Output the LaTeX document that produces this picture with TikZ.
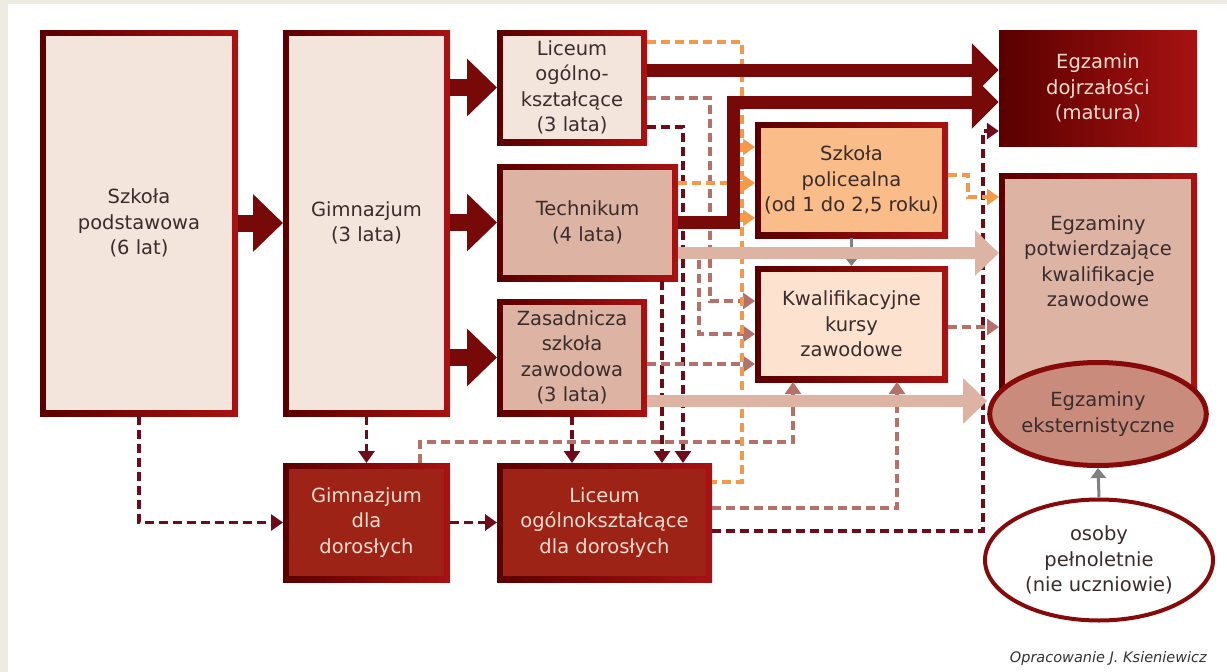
\documentclass[tikz,border=0pt]{standalone}
\usepackage{fontspec}
\setmainfont{DejaVu Sans}
\usetikzlibrary{arrows.meta,shapes.geometric}
\definecolor{bgbeige}{HTML}{EEEBE2}
\definecolor{bdA}{HTML}{5A0000}
\definecolor{bdB}{HTML}{A81212}
\definecolor{fillL}{HTML}{F3E5DC}
\definecolor{fillT}{HTML}{DDB3A3}
\definecolor{fillD}{HTML}{9C2316}
\definecolor{txtL}{HTML}{F7DDD0}
\definecolor{txtD}{HTML}{3A2C2C}
\definecolor{fillP}{HTML}{FABC88}
\definecolor{fillK}{HTML}{FCE2CF}
\definecolor{fillE}{HTML}{C98C7C}
\definecolor{darkdash}{HTML}{6E0B1B}
\definecolor{rosedash}{HTML}{B5706A}
\definecolor{orng}{HTML}{F29A4A}
\definecolor{greyA}{HTML}{808080}
\definecolor{lrose}{HTML}{DDB3A3}
\definecolor{dkarrow}{HTML}{780909}
\definecolor{ellb}{HTML}{860A0A}
\begin{document}
\begin{tikzpicture}[x=1pt,y=-1pt,
  txt/.style={align=center, font=\fontsize{19.5pt}{25.5pt}\selectfont, text=txtD, inner sep=0pt},
  bx/.style={rectangle, inner sep=0pt, outer sep=0pt, left color=bdA, right color=bdB, txt,
    path picture={\fill[#1] ([shift={(6pt,-6pt)}]path picture bounding box.north west) rectangle ([shift={(-6pt,6pt)}]path picture bounding box.south east);}},
  ddash/.style={draw=darkdash, line width=3.5pt, dash pattern=on 9pt off 5pt},
  rdash/.style={draw=rosedash, line width=3.5pt, dash pattern=on 9pt off 5pt},
  odash/.style={draw=orng, line width=3.5pt, dash pattern=on 9pt off 5pt},
  dtip/.style={-{Triangle[width=16pt,length=12pt]}},
  blk/.style={draw=dkarrow, line width=17pt, -{Triangle[width=56pt,length=30pt]}},
  mat/.style={draw=dkarrow, line width=13pt, line join=miter, -{Triangle[width=52pt,length=27pt]}},
  lra/.style={draw=lrose, line width=12pt, -{Triangle[width=44pt,length=24pt]}},
  gra/.style={draw=greyA, line width=3pt, -{Triangle[width=15pt,length=10pt]}}
]
\useasboundingbox (0,0) rectangle (1227,672);
\fill[bgbeige] (0,0) rectangle (1227,672);
\fill[white] (8,4) rectangle (1227,672);

% boxes
\node[bx=fillL, minimum width=198pt, minimum height=386pt] (podst) at (139,223) {Szkoła\\podstawowa\\(6 lat)};
\node[bx=fillL, minimum width=167pt, minimum height=386pt] (gimn) at (366.5,223) {Gimnazjum\\(3 lata)};
\node[bx=fillL, minimum width=150pt, minimum height=115pt] (liceum) at (572,87.5) {Liceum\\ogólno-\\kształcące\\(3 lata)};
\node[bx=fillT, minimum width=181pt, minimum height=117pt] (tech) at (587.5,222.5) {Technikum\\(4 lata)};
\node[bx=fillT, minimum width=150pt, minimum height=117pt] (zsz) at (572,357.5) {Zasadnicza\\szkoła\\zawodowa\\(3 lata)};
\node[bx=fillD, text=txtL, minimum width=167pt, minimum height=119pt] (gdd) at (366.5,522.5) {Gimnazjum\\dla\\dorosłych};
\node[bx=fillD, text=txtL, minimum width=215pt, minimum height=119pt] (ldd) at (604.5,522.5) {Liceum\\ogólnokształcące\\dla dorosłych};
\node[txt, text=txtL, left color=bdA, right color=bdB, minimum width=198pt, minimum height=116pt] (matura) at (1098,88) {Egzamin\\dojrzałości\\(matura)};
\node[bx=fillP, minimum width=193pt, minimum height=116pt] (polic) at (851.5,180) {Szkoła\\policealna\\(od 1 do 2,5 roku)};
\node[bx=fillK, minimum width=193pt, minimum height=116pt] (kursy) at (851.5,324) {Kwalifikacyjne\\kursy\\zawodowe};
\node[bx=fillT, minimum width=198pt, minimum height=241pt] (potw) at (1098,293.5) {};
\node[txt] (potwtxt) at (1098,261) {Egzaminy\\potwierdzające\\kwalifikacje\\zawodowe};
\node[txt, ellipse, draw=ellb, line width=5pt, fill=fillE, minimum width=193pt, minimum height=103pt] (ekst) at (1098,414) {Egzaminy\\eksternistyczne};
\node[txt, ellipse, draw=ellb, line width=4pt, fill=white, minimum width=228pt, minimum height=121pt] (osoby) at (1099,560) {osoby\\pełnoletnie\\(nie uczniowie)};
\node[anchor=east, inner sep=0pt, font=\fontsize{14.5pt}{17pt}\selectfont\itshape, text=black!80] (cap) at (1207,658) {Opracowanie J. Ksieniewicz};

% coordinates
\coordinate (oa) at (742,42);
\coordinate (ob) at (742,147);
\coordinate (oc) at (700,183);
\coordinate (od) at (742,482);
\coordinate (oe) at (742,218);
\coordinate (of) at (968,175);
\coordinate (og) at (968,197);
\coordinate (d1) at (683,127);
\coordinate (d2) at (662,300);
\coordinate (d3) at (983,531);
\coordinate (d4) at (983,131);
\coordinate (r1) at (710,98);
\coordinate (r2) at (710,301);
\coordinate (r3) at (699,253);
\coordinate (r4) at (699,334);
\coordinate (r5) at (700,364);
\coordinate (r6) at (970,327);
\coordinate (r7) at (420,442);
\coordinate (r8) at (793,442);
\coordinate (r9) at (897,508);
\coordinate (lm) at (800,70);
\coordinate (te) at (733,102);
\coordinate (tc) at (733,222);
\coordinate (l1) at (800,253);
\coordinate (l2) at (800,401);

% dark dashed
\draw[ddash,dtip] (podst.south) -- (podst.south |- gdd.west) -- (gdd.west);
\draw[ddash,dtip] (gimn.south) -- (gdd.north);
\draw[ddash,dtip] (gdd.east) -- (ldd.west);
\draw[ddash,dtip] (zsz.south) -- (zsz.south |- ldd.north);
\draw[ddash,dtip] (liceum.east |- d1) -- (d1) -- (d1 |- ldd.north);
\draw[ddash,dtip] (d2 |- tech.south) -- (d2 |- ldd.north);
\draw[ddash,dtip] (ldd.east |- d3) -- (d3) -- (d4) -- (matura.west |- d4);

% rose dashed
\draw[rdash,dtip] (liceum.east |- r1) -- (r1) -- (r2) -- (kursy.west |- r2);
\draw[rdash,dtip] (tech.east |- r3) -- (r3) -- (r4) -- (kursy.west |- r4);
\draw[rdash,dtip] (zsz.east |- r5) -- (kursy.west |- r5);
\draw[rdash,dtip] (kursy.east |- r6) -- (potw.west |- r6);
\draw[rdash,dtip] (r7 |- gdd.north) -- (r7) -- (r8) -- (r8 |- kursy.south);
\draw[rdash,dtip] (ldd.east |- r9) -- (r9) -- (r9 |- kursy.south);

% orange dashed
\draw[odash] (liceum.east |- oa) -- (oa) -- (od) -- (ldd.east |- od);
\draw[odash,dtip] (ob) -- (polic.west |- ob);
\draw[odash,dtip] (tech.east |- oc) -- (polic.west |- oc);
\draw[odash,dtip] (oe) -- (polic.west |- oe);
\draw[odash,dtip] (polic.east |- of) -- (of) -- (og) -- (potw.west |- og);

% grey arrows
\draw[gra] (polic.south) -- (kursy.north);
\draw[gra] (osoby.north) -- (ekst.south);

% light rose thick arrows
\draw[lra] (tech.east |- l1) -- (potw.west |- l1);
\draw[lra] (zsz.east |- l2) -- (ekst.west |- l2);

% dark block arrows
\draw[blk] (podst.east) -- (gimn.west);
\draw[blk] (gimn.east |- liceum.west) -- (liceum.west);
\draw[blk] (gimn.east |- tech.west) -- (tech.west);
\draw[blk] (gimn.east |- zsz.west) -- (zsz.west);
\draw[mat] (liceum.east |- lm) -- (matura.west |- lm);
\draw[mat] (tech.east |- tc) -- (tc) -- (te) -- (matura.west |- te);
\end{tikzpicture}
\end{document}
